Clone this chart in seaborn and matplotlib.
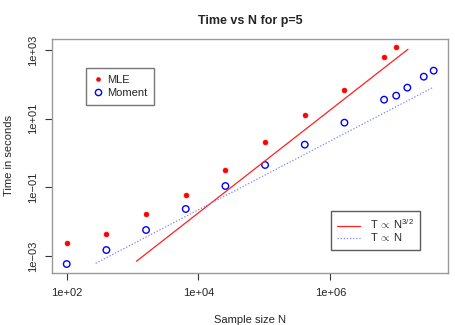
"""
Time vs N for p=5: MLE and moment estimator timings on log-log axes.
"""

import matplotlib

matplotlib.use("Agg")
import matplotlib.pyplot as plt
import pandas as pd
import seaborn as sns
from matplotlib.lines import Line2D

# data
mle_n = [100, 400, 1600, 6400, 25600, 102400, 409600, 1638400, 6553600, 1.0e7]
mle_t = [0.00234, 0.00447, 0.0163, 0.0611, 0.320, 2.04, 12.5, 66.8, 625, 1197]

moment_n = [100, 400, 1600, 6400, 25600, 102400, 409600, 1638400, 6553600,
            1.0e7, 1.475e7, 2.62e7, 3.7e7]
moment_t = [0.000583, 0.00149, 0.00571, 0.0234, 0.109, 0.447, 1.75, 7.64,
            35.7, 46.8, 80.0, 167, 250]

# reference lines T ~ N^(3/2) and T ~ N (end points)
ref15_n = [1140, 1.51e7]
ref15_t = [6.98e-4, 1.05e3]
ref1_n = [275, 3.57e7]
ref1_t = [6.1e-4, 80.0]

x_ticks = [1e2, 1e4, 1e6]
x_tick_labels = ["1e+02", "1e+04", "1e+06"]
y_ticks = [1e-3, 1e-1, 1e1, 1e3]
y_tick_labels = ["1e\u221203", "1e\u221201", "1e+01", "1e+03"]

sns.set_theme(style="white")
plt.rcParams["font.family"] = ["Liberation Sans", "DejaVu Sans"]
plt.rcParams["mathtext.fontset"] = "custom"
plt.rcParams["mathtext.rm"] = "Liberation Sans"

fig = plt.figure(figsize=(4.55, 3.25), dpi=100)
ax = fig.add_axes([0.1143, 0.16, 0.8703, 0.72])

mle_df = pd.DataFrame({"n": mle_n, "t": mle_t})
mom_df = pd.DataFrame({"n": moment_n, "t": moment_t})

sns.lineplot(x=ref15_n, y=ref15_t, color="#ff2020", linewidth=0.9, ax=ax)
sns.lineplot(x=ref1_n, y=ref1_t, color="#8080ff", linewidth=0.9,
             linestyle=(0, (1, 1.5)), ax=ax)
sns.scatterplot(data=mle_df, x="n", y="t", color="red", s=12,
                edgecolor="red", linewidth=0.5, ax=ax)
sns.scatterplot(data=mom_df, x="n", y="t", facecolor="none", s=22,
                edgecolor="blue", linewidth=1.0, ax=ax)

ax.set_xscale("log")
ax.set_yscale("log")
ax.set_xlim(10 ** 1.777, 10 ** 7.786)
ax.set_ylim(10 ** -3.496, 10 ** 3.32)
ax.set_xticks(x_ticks)
ax.set_xticklabels(x_tick_labels)
ax.set_yticks(y_ticks)
ax.set_yticklabels(y_tick_labels, rotation=90, va="center")
ax.minorticks_off()
ax.tick_params(axis="both", which="major", direction="out", length=5,
               width=0.8, color="#333333", labelsize=8, pad=6,
               bottom=True, left=True)
ax.tick_params(axis="y", pad=5)
for spine in ax.spines.values():
    spine.set_color("#999999")
    spine.set_linewidth(1.0)

ax.set_title("Time vs N for p=5", fontsize=9, fontweight="bold", pad=11)
ax.set_xlabel("Sample size N", fontsize=8, labelpad=12)
ax.set_ylabel("Time in seconds", fontsize=8, labelpad=10)

# legend for points
pt_handles = [
    Line2D([], [], marker="o", linestyle="none", color="red",
           markersize=3.3, markeredgewidth=0),
    Line2D([], [], marker="o", linestyle="none", markerfacecolor="none",
           markeredgecolor="blue", markersize=4.5, markeredgewidth=1.0),
]
leg1 = ax.legend(pt_handles, ["MLE", "Moment"], loc="upper left",
                 bbox_to_anchor=(0.087, 0.875), fontsize=8, frameon=True,
                 fancybox=False, edgecolor="#555555", handlelength=0.8,
                 handletextpad=0.5, borderpad=0.6, labelspacing=0.3,
                 borderaxespad=0)
leg1.get_frame().set_linewidth(1.0)
ax.add_artist(leg1)

# legend for reference lines
ln_handles = [
    Line2D([], [], color="#ff2020", linewidth=0.9),
    Line2D([], [], color="#8080ff", linewidth=0.9, linestyle=(0, (1, 1.5))),
]
leg2 = ax.legend(ln_handles,
                 [r"T$\,\propto\,$N$^{3/2}$", r"T$\,\propto\,$N"],
                 loc="upper left", bbox_to_anchor=(0.704, 0.265), fontsize=8,
                 frameon=True, fancybox=False, edgecolor="#333333",
                 handlelength=2.0, handletextpad=0.9, borderpad=0.6,
                 labelspacing=0.0, borderaxespad=0)
leg2.get_frame().set_linewidth(1.0)

fig.savefig("out.png", dpi=100)
